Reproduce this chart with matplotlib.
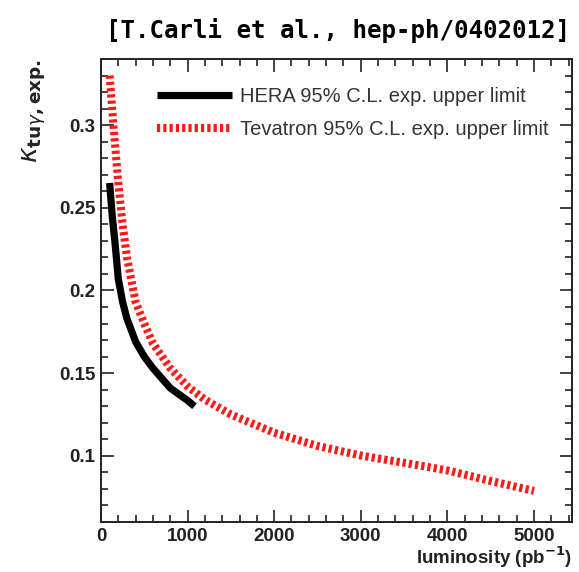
import numpy as np
import matplotlib
matplotlib.use('Agg')
import matplotlib.pyplot as plt
from matplotlib.ticker import MultipleLocator

plt.rcParams['font.family'] = ['Liberation Sans', 'DejaVu Sans']

# expected upper limits on kappa_tu-gamma vs integrated luminosity
hera_lumi = [100, 130, 160, 200, 250, 300, 400, 500, 600, 800, 1000, 1080]
hera_kappa = [0.265, 0.245, 0.230, 0.207, 0.193, 0.183, 0.169, 0.160, 0.153, 0.141, 0.1335, 0.130]

tev_lumi = [100, 150, 200, 250, 300, 400, 500, 600, 800, 1000, 1200, 1500,
            2000, 2500, 3000, 3500, 4000, 4500, 5000]
tev_kappa = [0.330, 0.296, 0.265, 0.240, 0.220, 0.193, 0.180, 0.168, 0.153, 0.142,
             0.134, 0.125, 0.114, 0.106, 0.1002, 0.0958, 0.0912, 0.0848, 0.0788]

fig = plt.figure(figsize=(5.79, 5.72), dpi=100)
ax = fig.add_axes([0.1744, 0.0874, 0.8136, 0.8095])

ax.plot(hera_lumi, hera_kappa, color='black', lw=5.2, solid_capstyle='butt',
        label='HERA 95% C.L. exp. upper limit')
ax.plot(tev_lumi, tev_kappa, color='#ff1a1a', lw=5.8, dashes=(0.4, 0.38),
        dash_capstyle='butt', label='Tevatron 95% C.L. exp. upper limit')

ax.set_xlim(0, 5440)
ax.set_ylim(0.06, 0.34)
ax.xaxis.set_major_locator(MultipleLocator(1000))
ax.xaxis.set_minor_locator(MultipleLocator(200))
ax.yaxis.set_major_locator(MultipleLocator(0.05))
ax.yaxis.set_minor_locator(MultipleLocator(0.01))
ax.set_yticks([0.1, 0.15, 0.2, 0.25, 0.3])
ax.set_yticklabels(['0.1', '0.15', '0.2', '0.25', '0.3'])
ax.tick_params(which='both', direction='in', top=True, right=True, width=1.2,
               labelsize=13.5, pad=4, colors='#222222')
ax.tick_params(which='major', length=9)
ax.tick_params(which='minor', length=5)
for lab in ax.get_xticklabels() + ax.get_yticklabels():
    lab.set_fontweight('bold')
for sp in ax.spines.values():
    sp.set_linewidth(1.4)
    sp.set_color('#222222')

ax.set_xlabel(r'luminosity (pb$^{\mathbf{-1}}$)', fontsize=13.5, fontweight='bold',
              loc='right', labelpad=0, color='#222222')
ax.set_ylabel(r'$\kappa_{\mathbf{tu}\gamma\mathbf{,exp.}}$', fontsize=19,
              loc='top', labelpad=8, color='#222222')

ax.legend(loc='upper left', bbox_to_anchor=(0.119, 0.94), frameon=False,
          fontsize=14.5, handlelength=3.7, handletextpad=0.4, labelspacing=0.72,
          borderpad=0, borderaxespad=0, labelcolor='#333333')

fig.text(0.985, 0.946, '[T.Carli et al., hep-ph/0402012]', ha='right', va='center',
         fontsize=17.4, fontweight='bold', family='DejaVu Sans Mono')

fig.savefig('out.png', dpi=100)
